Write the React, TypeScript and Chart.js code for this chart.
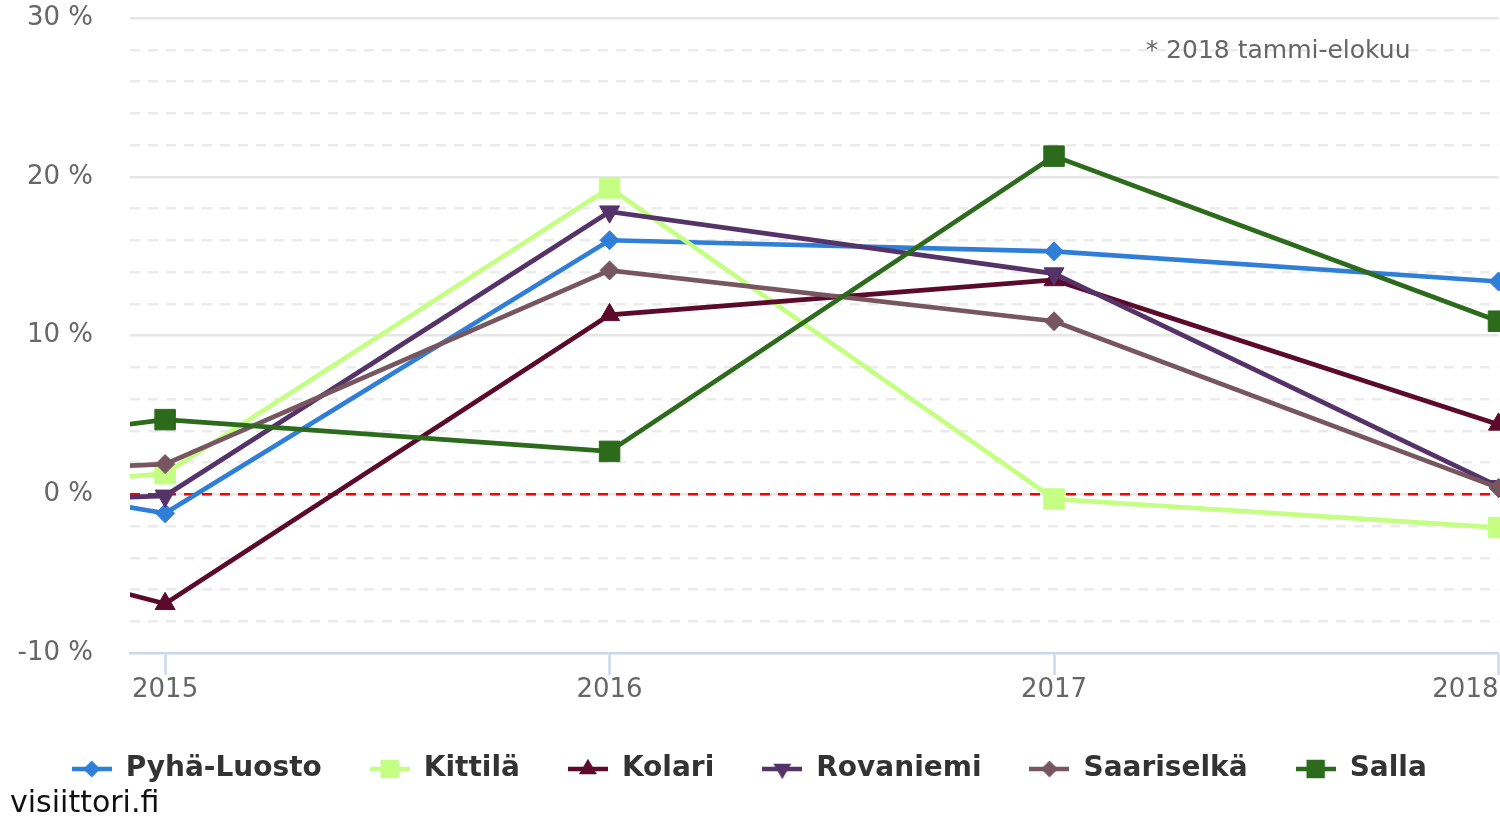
import React, { useEffect, useRef } from "react";
import { Chart, registerables } from "chart.js";

Chart.register(...registerables);

// ---- data ----
const YEARS = [2014, 2015, 2016, 2017, 2018];
const CATEGORIES = [2015, 2016, 2017, 2018];
const X_MIN = 2014.921;
const X_MAX = 2018;
const Y_MIN = -10;
const Y_MAX = 30;
const ZERO_LINE = 0;

const SERIES_NAMES = ["Pyhä-Luosto", "Kittilä", "Kolari", "Rovaniemi", "Saariselkä", "Salla"];
const PYHA_LUOSTO = [3.6, -1.2, 16.0, 15.3, 13.4];
const KITTILA = [-0.9, 1.3, 19.3, -0.3, -2.1];
const KOLARI = [0.4, -6.9, 11.3, 13.5, 4.4];
const ROVANIEMI = [-1.1, -0.1, 17.8, 13.9, 0.5];
const SAARISELKA = [0.6, 1.9, 14.1, 10.9, 0.4];
const SALLA = [1.2, 4.7, 2.7, 21.3, 10.9];
const SERIES_VALUES = [PYHA_LUOSTO, KITTILA, KOLARI, ROVANIEMI, SAARISELKA, SALLA];

const NOTE = "* 2018 tammi-elokuu";
const CREDIT = "visiittori.fi";

// ---- styles ----
const COLORS = ["#2f7ed8", "#c4ff84", "#5c0a2c", "#553369", "#77565f", "#2c6a1c"];
const MARKERS = ["rectRot", "rect", "triangle", "triangle", "rectRot", "rect"];
const ROTATIONS = [0, 0, 0, 180, 0, 0];
const RADII: Record<string, number> = { rectRot: 9.5, rect: 14.5, triangle: 11.5 };
const FONT = "'DejaVu Sans', sans-serif";

function makeIcon(color: string, shape: string, rotation: number) {
  const c = document.createElement("canvas");
  c.width = 40;
  c.height = 24;
  const g = c.getContext("2d")!;
  const cx = 20, cy = 12;
  g.strokeStyle = color;
  g.lineWidth = 4.7;
  g.beginPath();
  g.moveTo(0, cy);
  g.lineTo(40, cy);
  g.stroke();
  g.fillStyle = color;
  g.beginPath();
  const r = RADII[shape] * 0.9;
  if (shape === "rectRot") {
    g.moveTo(cx, cy - r);
    g.lineTo(cx + r, cy);
    g.lineTo(cx, cy + r);
    g.lineTo(cx - r, cy);
  } else if (shape === "rect") {
    const h = r * Math.SQRT1_2;
    g.rect(cx - h, cy - h, 2 * h, 2 * h);
  } else {
    const s = rotation === 180 ? -1 : 1;
    g.moveTo(cx, cy - s * r);
    g.lineTo(cx + 0.866 * r, cy + s * 0.5 * r);
    g.lineTo(cx - 0.866 * r, cy + s * 0.5 * r);
  }
  g.closePath();
  g.fill();
  return c;
}

function noScalePadding(s: any) {
  s.paddingTop = 0;
  s.paddingBottom = 0;
  s.paddingLeft = 0;
  s.paddingRight = 0;
}

const zeroLinePlugin = {
  id: "zeroLine",
  beforeDatasetsDraw(chart: any) {
    const { ctx, chartArea, scales } = chart;
    const y = scales.y.getPixelForValue(ZERO_LINE);
    ctx.save();
    ctx.strokeStyle = "#ff0000";
    ctx.lineWidth = 2.4;
    ctx.setLineDash([10, 8]);
    ctx.beginPath();
    ctx.moveTo(chartArea.left, y);
    ctx.lineTo(chartArea.right, y);
    ctx.stroke();
    ctx.restore();
  },
};

const lastLabelPlugin = {
  id: "lastLabel",
  beforeDraw(chart: any) {
    const items = chart.scales.x.getLabelItems();
    if (items && items.length) {
      items[items.length - 1].options.textAlign = "right";
    }
  },
};

const textPlugin = {
  id: "texts",
  afterDraw(chart: any) {
    const { ctx, chartArea } = chart;
    ctx.save();
    ctx.font = `25px ${FONT}`;
    ctx.fillStyle = "#666666";
    ctx.textAlign = "right";
    ctx.textBaseline = "middle";
    ctx.fillText(NOTE, chartArea.right - 88, chartArea.top + 33);
    ctx.font = `30px ${FONT}`;
    ctx.fillStyle = "#111111";
    ctx.textAlign = "left";
    ctx.textBaseline = "alphabetic";
    ctx.fillText(CREDIT, 10, 812);
    ctx.restore();
  },
};

export default function App() {
  const ref = useRef<HTMLCanvasElement | null>(null);

  useEffect(() => {
    if (!ref.current) return;
    const icons = SERIES_NAMES.map((_, i) => makeIcon(COLORS[i], MARKERS[i], ROTATIONS[i]));

    const datasets = SERIES_NAMES.map((name, i) => ({
      label: name,
      data: YEARS.map((yr, k) => ({ x: yr, y: SERIES_VALUES[i][k] })),
      borderColor: COLORS[i],
      backgroundColor: COLORS[i],
      borderWidth: 4.7,
      pointStyle: MARKERS[i],
      pointRotation: ROTATIONS[i],
      pointRadius: RADII[MARKERS[i]],
      pointHoverRadius: RADII[MARKERS[i]],
      pointBackgroundColor: COLORS[i],
      pointBorderColor: COLORS[i],
      pointBorderWidth: 1,
      tension: 0,
      order: SERIES_NAMES.length - i,
      clip: { left: 0, top: 30, right: 30, bottom: 30 },
    }));

    const chart = new Chart(ref.current, {
      type: "line",
      data: { datasets },
      plugins: [zeroLinePlugin, lastLabelPlugin, textPlugin],
      options: {
        animation: false,
        responsive: false,
        events: [],
        layout: {
          autoPadding: false,
          padding: { left: 0, right: 1.5, top: 18, bottom: 24 },
        },
        scales: {
          x: {
            type: "linear",
            min: X_MIN,
            max: X_MAX,
            afterBuildTicks: (s: any) => {
              s.ticks = CATEGORIES.map((v) => ({ value: v }));
            },
            afterFit: (s: any) => {
              s.height = 54;
              noScalePadding(s);
            },
            ticks: {
              autoSkip: false,
              maxRotation: 0,
              minRotation: 0,
              padding: 0,
              color: "#666666",
              font: { family: FONT, size: 26 },
              callback: (v: any) => String(v),
            },
            grid: {
              drawOnChartArea: false,
              drawTicks: true,
              tickLength: 22,
              tickColor: "#ccd6eb",
              tickWidth: 2.4,
              color: "#ccd6eb",
            },
            border: { display: true, color: "#ccd6eb", width: 2.4 },
          },
          y: {
            type: "linear",
            min: Y_MIN,
            max: Y_MAX,
            afterFit: (s: any) => {
              s.width = 130;
              noScalePadding(s);
            },
            ticks: {
              stepSize: 2,
              autoSkip: false,
              padding: 37,
              color: "#666666",
              font: { family: FONT, size: 26 },
              callback: (v: any) => (Number(v) % 10 === 0 ? `${v} %` : ""),
            },
            grid: {
              drawTicks: false,
              lineWidth: 2.4,
              color: (c: any) => {
                const v = c.tick ? c.tick.value : 0;
                if (v === Y_MIN) return "rgba(0,0,0,0)";
                return v % 10 === 0 ? "#e6e6e6" : "#ebebeb";
              },
            },
            border: {
              display: false,
              dash: (c: any) => (c.tick && c.tick.value % 10 !== 0 ? [10, 8] : []),
            },
          },
        },
        plugins: {
          tooltip: { enabled: false },
          title: { display: false },
          legend: {
            display: true,
            position: "bottom",
            labels: {
              usePointStyle: true,
              pointStyleWidth: 40,
              padding: 48,
              color: "#333333",
              font: { family: FONT, size: 28, weight: "bold" },
              sort: (a: any, b: any) => a.datasetIndex - b.datasetIndex,
              generateLabels: (ch: any) => {
                const items = (Chart.defaults as any).plugins.legend.labels.generateLabels(ch);
                items.forEach((it: any) => {
                  it.pointStyle = icons[it.datasetIndex];
                  it.rotation = 0;
                });
                return items;
              },
            },
          },
        },
      } as any,
    });
    return () => chart.destroy();
  }, []);

  return (
    <div style={{ position: "fixed", left: 0, top: 0, width: 1500, height: 817, background: "#ffffff", overflow: "hidden" }}>
      <canvas ref={ref} width={1500} height={817} style={{ display: "block", width: 1500, height: 817 }} />
    </div>
  );
}
